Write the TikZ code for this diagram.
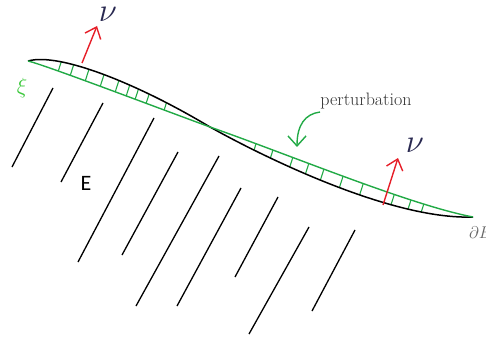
\RequirePackage{fix-cm}
\documentclass[tikz,border=0pt]{standalone}
\usepackage{fontspec}
\newfontfamily\carlito{Carlito}
\usetikzlibrary{arrows.meta}
\definecolor{pgreen}{RGB}{34,170,70}
\definecolor{xigreen}{RGB}{60,200,60}
\definecolor{pred}{RGB}{230,30,40}
\definecolor{nucol}{RGB}{40,40,80}
\tikzset{
  hatch/.style={black, line width=1.3pt},
  bound/.style={black, line width=1.5pt},
  pert/.style={pgreen, line width=1.4pt},
  tick/.style={pgreen, line width=1.1pt},
  normal/.style={pred, line width=1.4pt, -{Straight Barb[length=10pt,width=17pt,line width=1.4pt]}},
  pertarrow/.style={pgreen, line width=1.4pt, -{Straight Barb[length=10pt,width=18pt,line width=1.4pt]}},
}
\begin{document}
\begin{tikzpicture}[x=1pt,y=-1pt]
\clip (0,0) rectangle (486,339);
% hatching lines of E
\foreach \i/\ax/\ay/\bx/\by in {1/12/167/53/88, 2/61/182/103/103, 3/78/262/154/118, 4/122/255/178/152, 5/136/306/219/156, 6/177/306/241/188, 7/235/277/278/197, 8/249/334/309/227, 9/312/311/355/230}{
  \coordinate (h\i a) at (\ax,\ay);
  \coordinate (h\i b) at (\bx,\by);
  \draw[hatch] (h\i a) -- (h\i b);
}
% curve end points
\coordinate (L) at (28,61);
\coordinate (M) at (210,127);
\coordinate (R) at (473,217);
% ticks between the curves
\begin{scope}
\clip (L) .. controls (45,65) and (150,105) .. (M) .. controls (290,155) and (410,205) .. (R)
      .. controls (390,220) and (260,155) .. (M) .. controls (140,85) and (60,52) .. (L) -- cycle;
\foreach \x/\y in {58/71.9, 70/76.2, 85/81.7, 100/87.1, 115/92.6, 126/96.6, 135/99.8, 146/103.8, 164/110.4,
                   255/147, 272/153, 292/160, 308/166, 323/172, 342/179.5, 362/187.5, 393/198.5, 410/203, 423/206.5}{
  \coordinate (t) at (\x,\y);
  \draw[tick] ([shift={(-9,28)}]t) -- ([shift={(9,-28)}]t);
}
\end{scope}
% boundary and perturbation
\draw[bound] (L) .. controls (60,52) and (140,85) .. (M) .. controls (260,155) and (390,220) .. (R);
\draw[pert] (L) .. controls (45,65) and (150,105) .. (M) .. controls (290,155) and (410,205) .. (R);
% normals
\coordinate (n1a) at (82,63);
\coordinate (n1b) at (97,26);
\coordinate (n2a) at (383,205);
\coordinate (n2b) at (398,158);
\draw[normal] (n1a) -- (n1b);
\draw[normal] (n2a) -- (n2b);
\node[text=nucol, font=\fontsize{33}{33}\selectfont, inner sep=0pt] (nu1) at (108,14) {$\nu$};
\node[text=nucol, font=\fontsize{33}{33}\selectfont, inner sep=0pt] (nu2) at (415,145) {$\nu$};
% labels
\node[text=xigreen, font=\fontsize{22}{22}\selectfont, inner sep=0pt] (xi) at (22,88) {$\xi$};
\node[font=\carlito\fontsize{22}{22}\selectfont] (E) at (86,183) {E};
\node[text=black!80, font=\fontsize{18}{18}\selectfont] (pt) at (366,101) {perturbation};
\node[text=black!60, font=\fontsize{17}{17}\selectfont, anchor=west, inner sep=0pt] (dE) at (469,233) {$\partial E$};
\coordinate (pa) at (320,112);
\coordinate (pb) at (297,147);
\draw[pertarrow] (pa) .. controls (305,114) and (297,125) .. (pb);
\end{tikzpicture}
\end{document}
